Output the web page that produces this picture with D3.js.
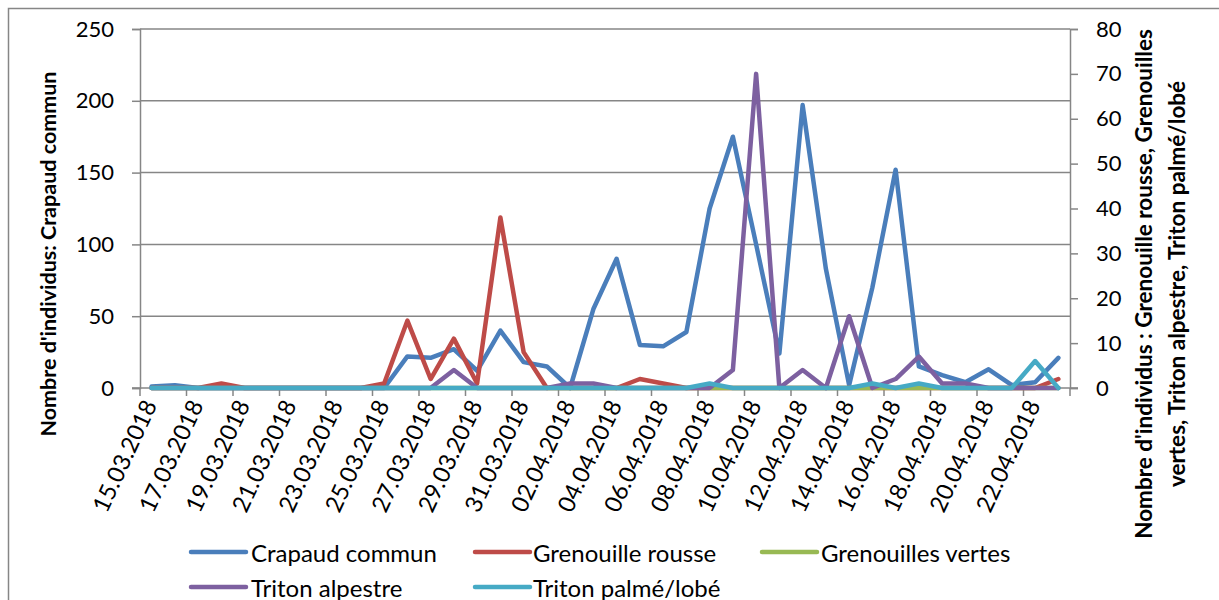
<!DOCTYPE html>
<html>
<head>
<meta charset="utf-8">
<script src="https://cdn.jsdelivr.net/npm/d3@7"></script>
<style>
  body { margin: 0; background: #fff; }
  svg { display: block; font-family: Lato, "Noto Sans", sans-serif; }
</style>
</head>
<body>
<svg id="chart" width="1219" height="600"></svg>
<script>
// dates, one per day
const dates = ["15.03.2018","16.03.2018","17.03.2018","18.03.2018","19.03.2018","20.03.2018","21.03.2018","22.03.2018",
  "23.03.2018","24.03.2018","25.03.2018","26.03.2018","27.03.2018","28.03.2018","29.03.2018","30.03.2018","31.03.2018",
  "01.04.2018","02.04.2018","03.04.2018","04.04.2018","05.04.2018","06.04.2018","07.04.2018","08.04.2018","09.04.2018",
  "10.04.2018","11.04.2018","12.04.2018","13.04.2018","14.04.2018","15.04.2018","16.04.2018","17.04.2018","18.04.2018",
  "19.04.2018","20.04.2018","21.04.2018","22.04.2018","23.04.2018"];

// left axis
const crapaud = [1,2,0,0,0,0,0,0,0,0,0,22,21,27,12,40,18,15,0,55,90,30,29,39,125,175,100,24,197,83,2,70,152,15,9,4,13,2,4,21];
// right axis
const rousse  = [0,0,0,1,0,0,0,0,0,0,1,15,2,11,1,38,8,0,0,0,0,2,1,0,0,0,0,0,0,0,0,0,0,0,0,0,0,0,0,2];
const vertes  = [0,0,0,0,0,0,0,0,0,0,0,0,0,0,0,0,0,0,0,0,0,0,0,0,0,0,0,0,0,0,0,0,0,0,0,0,0,0,0,0];
const alpestre = [0,0,0,0,0,0,0,0,0,0,0,0,0,4,0,0,0,0,1,1,0,0,0,0,0,4,70,0,4,0,16,0,2,7,1,1,0,0,0,0];
const palme   = [0,0,0,0,0,0,0,0,0,0,0,0,0,0,0,0,0,0,0,0,0,0,0,0,1,0,0,0,0,0,0,1,0,1,0,0,0,0,6,0];

const leftTicks = [0,50,100,150,200,250];
const rightTicks = [0,10,20,30,40,50,60,70,80];

const series = [
  {name: "Crapaud commun", values: crapaud, color: "#4a7ebb", axis: "left"},
  {name: "Grenouille rousse", values: rousse, color: "#be4b48", axis: "right"},
  {name: "Grenouilles vertes", values: vertes, color: "#98b954", axis: "right"},
  {name: "Triton alpestre", values: alpestre, color: "#7d60a0", axis: "right"},
  {name: "Triton palmé/lobé", values: palme, color: "#46aac5", axis: "right"}
];

const svg = d3.select("#chart");
const grey = "#868686";
const plotL = 140, plotR = 1070, plotT = 29, plotB = 388;

// outer frame
svg.append("rect")
  .attr("x", 8.5).attr("y", 8.5)
  .attr("width", 1300).attr("height", 700)
  .attr("fill", "none").attr("stroke", grey).attr("stroke-width", 1.5);

const x = d3.scaleBand().domain(dates).range([plotL, plotR]).padding(0);
const yL = d3.scaleLinear().domain([0, 250]).range([plotB, plotT]);
const yR = d3.scaleLinear().domain([0, 80]).range([plotB, plotT]);

// gridlines
svg.append("g")
  .selectAll("line")
  .data(leftTicks.slice(1))
  .join("line")
  .attr("x1", plotL).attr("x2", plotR)
  .attr("y1", d => yL(d)).attr("y2", d => yL(d))
  .attr("stroke", grey).attr("stroke-width", 1.5);

// left axis
const gL = svg.append("g")
  .attr("transform", `translate(${plotL},0)`)
  .call(d3.axisLeft(yL).tickValues(leftTicks).tickSize(8).tickPadding(18));
// right axis
const gR = svg.append("g")
  .attr("transform", `translate(${plotR},0)`)
  .call(d3.axisRight(yR).tickValues(rightTicks).tickSize(8).tickPadding(18));

[gL, gR].forEach(g => {
  g.select(".domain").attr("stroke", grey).attr("stroke-width", 1.5);
  g.selectAll(".tick line").attr("stroke", grey).attr("stroke-width", 1.5);
  g.selectAll(".tick text").attr("fill", "#000").style("font-size", "22px").style("font-family", "Lato");
});

// bottom axis
svg.append("line")
  .attr("x1", plotL - 8).attr("x2", plotR + 8)
  .attr("y1", plotB).attr("y2", plotB)
  .attr("stroke", grey).attr("stroke-width", 1.5);

const labelDates = dates.filter((d, i) => i % 2 === 0);

svg.append("g")
  .selectAll("line")
  .data(labelDates.concat([null]))
  .join("line")
  .attr("x1", d => d ? x(d) : plotR).attr("x2", d => d ? x(d) : plotR)
  .attr("y1", plotB).attr("y2", plotB + 8)
  .attr("stroke", grey).attr("stroke-width", 1.5);

svg.append("g")
  .selectAll("text")
  .data(labelDates)
  .join("text")
  .attr("transform", d => `translate(${x(d) + x.bandwidth() / 2 + 6},405) rotate(-65)`)
  .attr("text-anchor", "end")
  .style("font-size", "23.5px")
  .text(d => d);

// lines
const line = s => d3.line()
  .x((v, i) => x(dates[i]) + x.bandwidth() / 2)
  .y(v => s.axis === "left" ? yL(v) : yR(v));

svg.append("g")
  .selectAll("path")
  .data(series)
  .join("path")
  .attr("d", s => line(s)(s.values))
  .attr("fill", "none")
  .attr("stroke", s => s.color)
  .attr("stroke-width", 4.5)
  .attr("stroke-linejoin", "round")
  .attr("stroke-linecap", "round");

// axis titles
svg.append("text")
  .attr("transform", "translate(56,254) rotate(-90)")
  .attr("text-anchor", "middle")
  .style("font-size", "21.5px").style("font-weight", "bold")
  .text("Nombre d'individus: Crapaud commun");

const rt = svg.append("text")
  .attr("transform", "translate(1152,284) rotate(-90)")
  .attr("text-anchor", "middle")
  .style("font-size", "22.5px").style("font-weight", "bold");
rt.append("tspan").attr("x", 0).attr("dy", 0).text("Nombre d'individus : Grenouille rousse, Grenouilles");
rt.append("tspan").attr("x", 0).attr("dy", 33).text("vertes, Triton alpestre, Triton palmé/lobé");

// legend
const legPos = [
  {lx: 191, tx: 251, y: 552},
  {lx: 475, tx: 533, y: 552},
  {lx: 762, tx: 821, y: 552},
  {lx: 191, tx: 251, y: 587},
  {lx: 475, tx: 533, y: 587}
];
const leg = svg.append("g")
  .selectAll("g")
  .data(series)
  .join("g");
leg.append("line")
  .attr("x1", (s, i) => legPos[i].lx).attr("x2", (s, i) => legPos[i].lx + 55)
  .attr("y1", (s, i) => legPos[i].y).attr("y2", (s, i) => legPos[i].y)
  .attr("stroke", s => s.color).attr("stroke-width", 4.5)
  .attr("stroke-linecap", "round");
leg.append("text")
  .attr("x", (s, i) => legPos[i].tx)
  .attr("y", (s, i) => legPos[i].y)
  .attr("dominant-baseline", "central")
  .style("font-size", "24px")
  .text(s => s.name);
</script>
</body>
</html>
